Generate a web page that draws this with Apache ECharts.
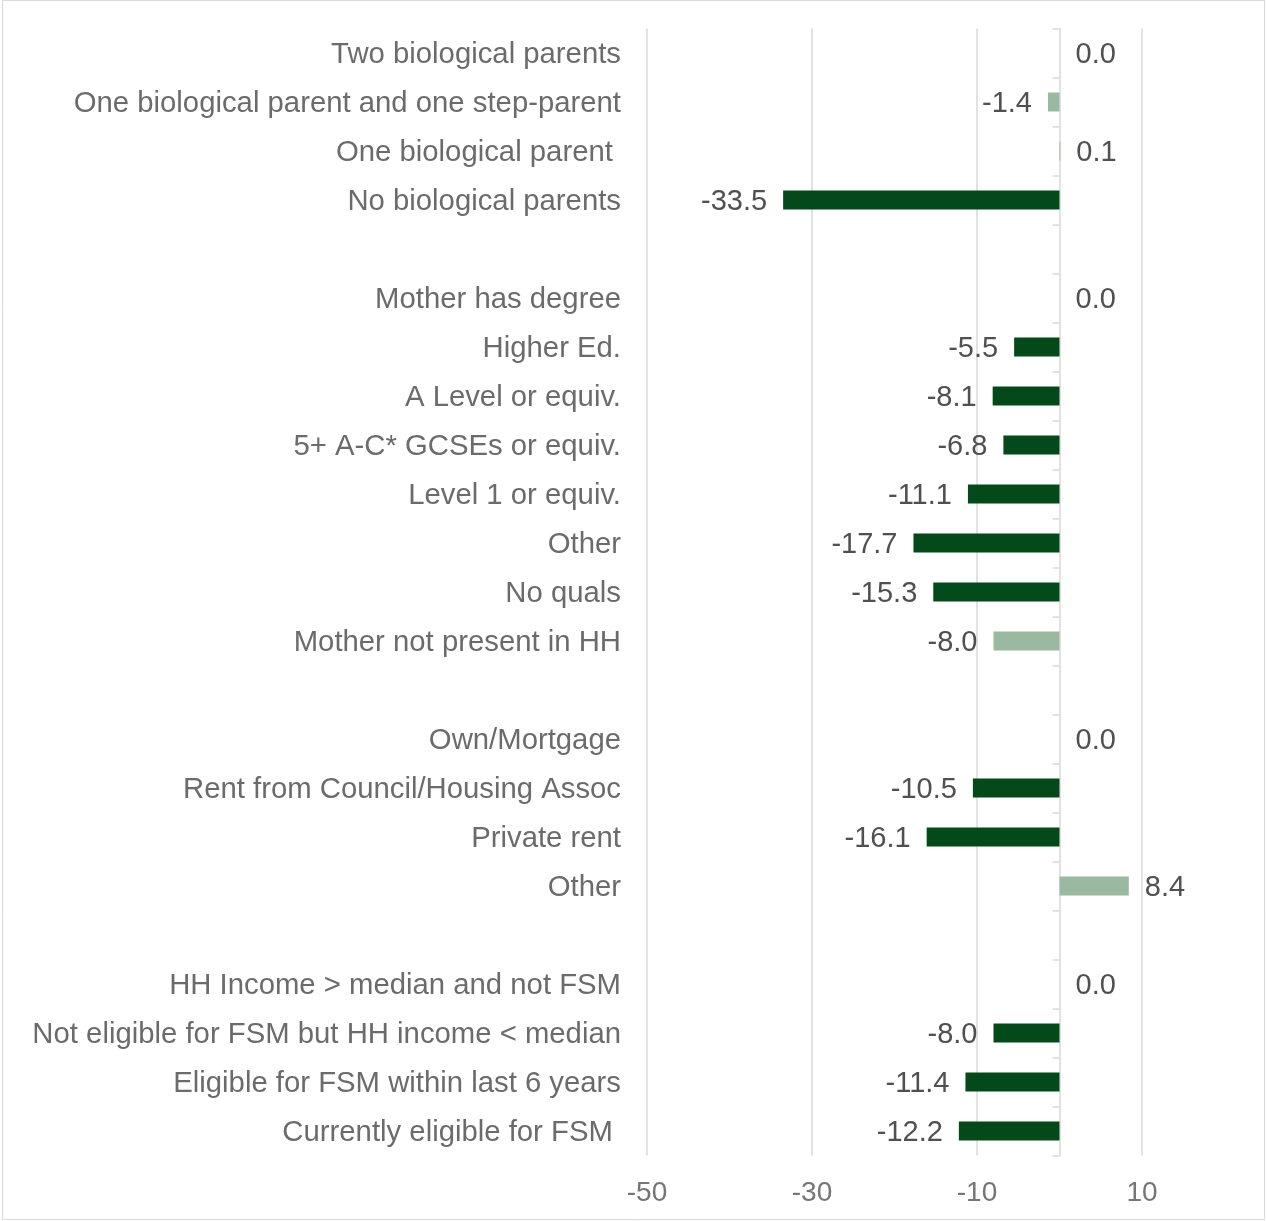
<!DOCTYPE html>
<html>
<head>
<meta charset="utf-8">
<script src="https://cdn.jsdelivr.net/npm/echarts@6/dist/echarts.min.js"></script>
<style>
  html, body { margin: 0; padding: 0; background: #ffffff; }
  #chart { width: 1267px; height: 1221px; }
</style>
</head>
<body>
<div id="chart"></div>
<script>
// Row labels, top to bottom; empty strings are spacer rows between groups.
const categories = [
  'Two biological parents',
  'One biological parent and one step-parent',
  'One biological parent ',
  'No biological parents',
  '',
  'Mother has degree',
  'Higher Ed.',
  'A Level or equiv.',
  '5+ A-C* GCSEs or equiv.',
  'Level 1 or equiv.',
  'Other',
  'No quals',
  'Mother not present in HH',
  '',
  'Own/Mortgage',
  'Rent from Council/Housing Assoc',
  'Private rent',
  'Other',
  '',
  'HH Income > median and not FSM',
  'Not eligible for FSM but HH income < median',
  'Eligible for FSM within last 6 years',
  'Currently eligible for FSM '
];

// Difference from the reference group in each block.
const values = [
  0.0, -1.4, 0.1, -33.5,
  null,
  0.0, -5.5, -8.1, -6.8, -11.1, -17.7, -15.3, -8.0,
  null,
  0.0, -10.5, -16.1, 8.4,
  null,
  0.0, -8.0, -11.4, -12.2
];

// 1 = statistically significant (dark bar), 0 = not significant (light bar).
const significant = [
  0, 0, 0, 1,
  0,
  0, 1, 1, 1, 1, 1, 1, 0,
  0,
  0, 1, 1, 0,
  0,
  0, 1, 1, 1
];

// Value-axis tick labels.
const xTicks = [-50, -30, -10, 10];

const DARK = '#03491a';
const LIGHT = '#9bb8a0';
const FONT = '"Liberation Sans", Arial, sans-serif';

const seriesData = values.map(function (v, i) {
  if (v === null) return { value: null };
  return {
    value: v,
    itemStyle: { color: significant[i] ? DARK : LIGHT },
    label: { position: v < 0 ? 'left' : 'right' }
  };
});

const chart = echarts.init(document.getElementById('chart'), null, { renderer: 'canvas' });

chart.setOption({
  backgroundColor: '#ffffff',
  animation: false,
  graphic: [{
    type: 'rect',
    shape: { x: 2.5, y: 0.5, width: 1262, height: 1219 },
    style: { fill: 'none', stroke: '#d9d9d9', lineWidth: 1 },
    silent: true
  }],
  grid: {
    left: 647,
    right: 125,
    top: 28.5,
    bottom: 65.5,
    containLabel: false
  },
  xAxis: {
    type: 'value',
    min: xTicks[0],
    max: xTicks[xTicks.length - 1],
    interval: 20,
    axisLine: { show: false },
    axisTick: { show: false },
    splitLine: { show: true, lineStyle: { color: '#d9d9d9', width: 1.5 } },
    axisLabel: {
      color: '#757575',
      fontFamily: FONT,
      fontSize: 28,
      margin: 24,
      formatter: function (v) { return xTicks.indexOf(v) >= 0 ? String(v) : ''; }
    }
  },
  yAxis: [
    {
      // Row labels along the left edge of the plot.
      type: 'category',
      data: categories,
      inverse: true,
      position: 'left',
      axisLine: { show: false, onZero: false },
      axisTick: { show: false },
      splitLine: { show: false },
      axisLabel: {
        color: '#6b6b6b',
        fontFamily: FONT,
        fontSize: 29.3,
        margin: 26,
        interval: 0,
        formatter: function (v) { return v ? '{t|' + v + '}' : ''; },
        rich: {
          t: {
            color: '#6b6b6b',
            fontFamily: FONT,
            fontSize: 29.3,
            lineHeight: 33,
            verticalAlign: 'bottom'
          }
        }
      }
    },
    {
      // Zero line with tick marks between rows.
      type: 'category',
      data: categories,
      inverse: true,
      position: 'right',
      axisLine: { show: true, onZero: true, lineStyle: { color: '#d9d9d9', width: 1.5 } },
      axisTick: { show: true, inside: true, length: 7, interval: 0, lineStyle: { color: '#d9d9d9', width: 1.5 } },
      axisLabel: { show: false },
      splitLine: { show: false }
    }
  ],
  series: [{
    type: 'bar',
    yAxisIndex: 0,
    data: seriesData,
    barWidth: 19,
    label: {
      show: true,
      distance: 16,
      offset: [0, 2],
      color: '#505050',
      fontFamily: FONT,
      fontSize: 29,
      formatter: function (p) {
        return p.value === null || p.value === undefined ? '' : Number(p.value).toFixed(1);
      }
    }
  }]
});
</script>
</body>
</html>
